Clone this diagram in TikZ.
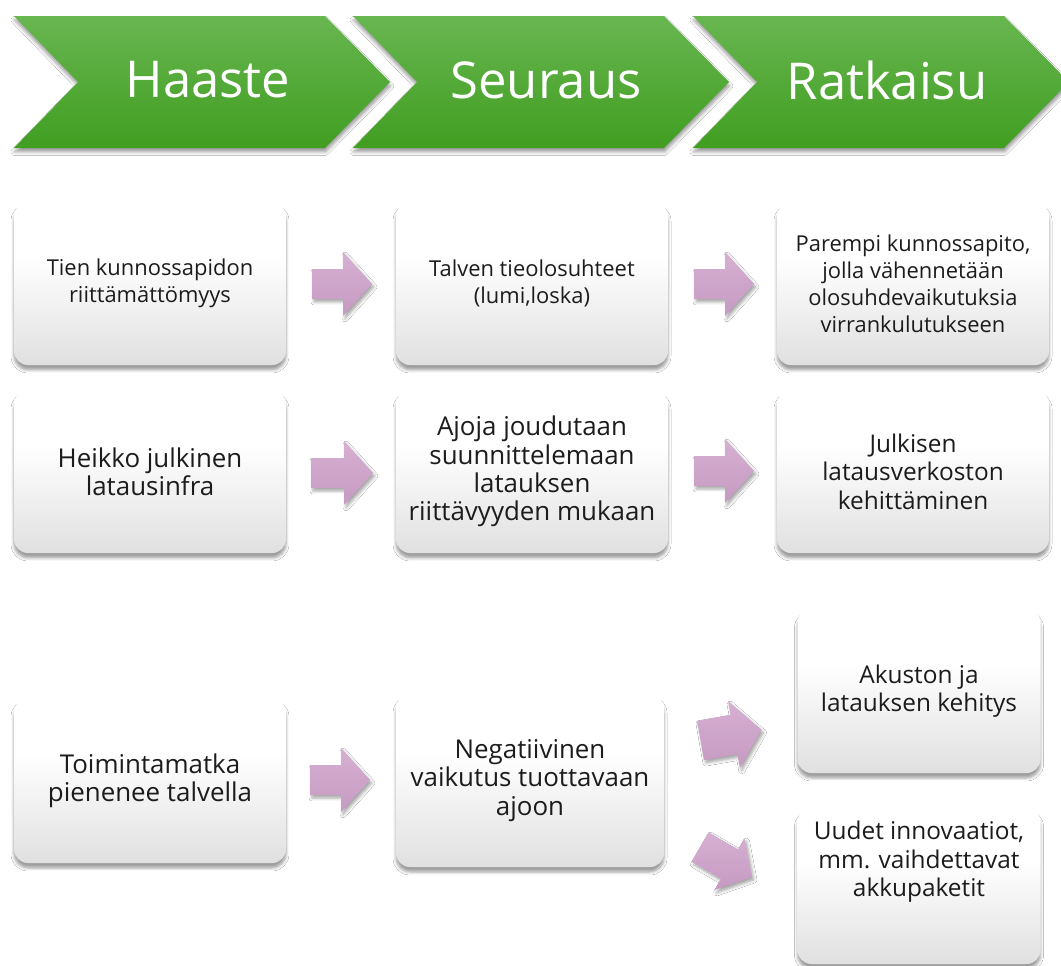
\documentclass[tikz,border=0pt]{standalone}
\usepackage{fontspec}
\setmainfont{Open Sans}
\usetikzlibrary{shadows.blur}
\definecolor{gtop}{RGB}{104,182,80}
\definecolor{gbot}{RGB}{64,158,33}
\definecolor{ptop}{RGB}{214,176,210}
\definecolor{pbot}{RGB}{198,154,194}
\definecolor{bbot}{RGB}{224,224,224}
\definecolor{txt}{RGB}{28,28,28}
\pgfdeclareverticalshading{boxshade}{100bp}{color(0bp)=(bbot); color(25bp)=(bbot); color(58bp)=(white); color(100bp)=(white)}
\tikzset{
  chev/.style={top color=gtop, bottom color=gbot, draw=none,
    blur shadow={shadow xshift=0.5pt, shadow yshift=-4pt, shadow blur radius=3.5pt, shadow opacity=40}},
  head/.style={text=white, font=\fontsize{51}{60}\selectfont, inner sep=0pt},
  box/.style={rectangle, rounded corners=14bp, shading=boxshade, draw=none,
    align=center, text=txt, inner sep=0pt,
    blur shadow={shadow xshift=0pt, shadow yshift=-5pt, shadow blur radius=3pt, shadow opacity=38}},
  small/.style={font=\fontsize{22}{27}\selectfont},
  big/.style={font=\fontsize{26}{28.5}\selectfont},
  mid/.style={font=\fontsize{24.5}{28.5}\selectfont},
  parrow/.style={top color=ptop, bottom color=pbot, draw=none,
    blur shadow={shadow xshift=2pt, shadow yshift=-3pt, shadow blur radius=3pt, shadow opacity=35}},
}
% x y angle length body head headlength
\newcommand\blockarrow[7]{%
  \begin{scope}[shift={(#1,#2)},rotate=#3]
    \path[parrow] (-#4/2,-#5/2) -- (#4/2-#7,-#5/2) -- (#4/2-#7,-#6/2) -- (#4/2,0)
      -- (#4/2-#7,#6/2) -- (#4/2-#7,#5/2) -- (-#4/2,#5/2) -- cycle;
  \end{scope}}
\newcommand\chevron[1]{%
  \path[chev] (#1,16) -- (#1+311,16) -- (#1+376,82) -- (#1+311,148) -- (#1,148) -- (#1+64,82) -- cycle;}
\begin{document}
\begin{tikzpicture}[x=1bp,y=-1bp]
\useasboundingbox (0,0) rectangle (1061,966);
\clip (0,0) rectangle (1061,966);
\fill[white] (0,0) rectangle (1061,966);
% header chevrons
\chevron{14}
\chevron{353}
\chevron{693}
\node[head] (h1) at (208,80) {Haaste};
\node[head] (h2) at (546,80) {Seuraus};
\node[head] (h3) at (887,80) {Ratkaisu};
% row 1
\node[box, small, minimum width=272bp, minimum height=163bp] (a1) at (150,283.5) {Tien kunnossapidon\\riittämättömyys};
\node[box, small, minimum width=272bp, minimum height=163bp] (b1) at (532,283.5) {Talven tieolosuhteet\\(lumi,loska)};
\node[box, small, minimum width=272bp, minimum height=163bp] (c1) at (913,283.5) {Parempi kunnossapito,\\jolla vähennetään\\olosuhdevaikutuksia\\virrankulutukseen};
% row 2
\node[box, big, minimum width=272bp, minimum height=163bp] (a2) at (150,471.5) {Heikko julkinen\\latausinfra};
\node[box, big, minimum width=272bp, minimum height=163bp] (b2) at (532,471.5) {Ajoja joudutaan\\suunnittelemaan\\latauksen\\riittävyyden mukaan};
\node[box, mid, minimum width=272bp, minimum height=163bp] (c2) at (913,471.5) {Julkisen\\latausverkoston\\kehittäminen};
% row 3
\node[box, big, minimum width=272bp, minimum height=165bp] (a3) at (150,780.5) {Toimintamatka\\pienenee talvella};
\node[box, big, minimum width=268bp, minimum height=173bp] (b3) at (530,780.5) {Negatiivinen\\vaikutus tuottavaan\\ajoon};
\node[box, mid, minimum width=243bp, minimum height=164bp] (c3) at (919,691) {Akuston ja\\latauksen kehitys};
\node[box, minimum width=243bp, minimum height=156bp] (d3) at (919,886) {};
\node[mid, align=center, text=txt, inner sep=0pt] (d3t) at (919,862) {Uudet innovaatiot,\\mm. vaihdettavat\\akkupaketit};
% block arrows
\blockarrow{342}{284}{0}{60}{30}{64}{29}
\blockarrow{724}{284}{0}{60}{30}{64}{29}
\blockarrow{342}{473}{0}{62}{30}{64}{29}
\blockarrow{724}{471}{0}{60}{30}{64}{29}
\blockarrow{340}{780}{0}{60}{30}{64}{29}
\blockarrow{731}{735}{10}{62}{40}{68}{28}
\blockarrow{726}{862}{-30}{60}{34}{60}{26}
\end{tikzpicture}
\end{document}
